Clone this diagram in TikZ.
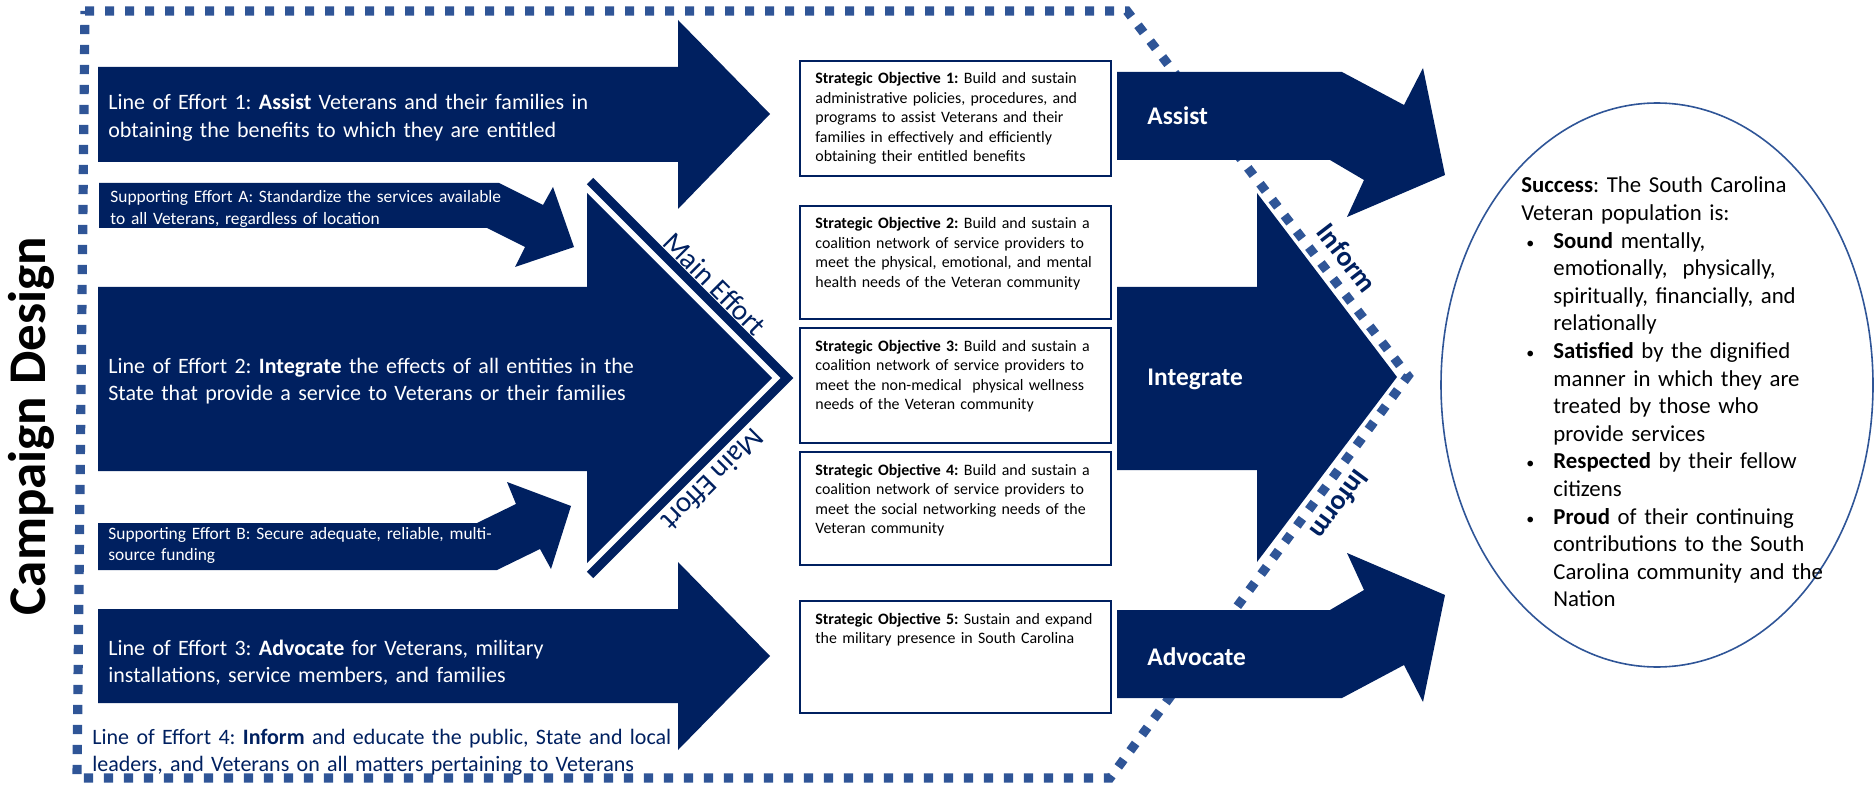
\documentclass[tikz,border=0pt]{standalone}
\usepackage{fontspec}
\setmainfont{Carlito}
\usepackage{tikz}
\usetikzlibrary{shapes.geometric}
\definecolor{navy}{RGB}{0,32,96}
\definecolor{dotblue}{RGB}{47,85,151}
\frenchspacing
\newcommand{\sbullet}{\makebox[16pt][l]{\hspace{2.5pt}{\fontsize{8}{8}\selectfont\textbullet}}}
\tikzset{
  effort/.style={fill=navy},
  loetext/.style={anchor=base west, inner sep=0pt, text=white, align=left, text width=265pt, font=\fontsize{11}{13.8}\selectfont},
  setext/.style={anchor=base west, inner sep=0pt, text=white, align=left, text width=200pt, font=\fontsize{8.7}{10.8}\selectfont},
  objbox/.style={draw=navy, line width=1pt, fill=white, anchor=north west, minimum width=155.5pt, inner sep=0pt},
  objtext/.style={anchor=base west, inner sep=0pt, align=left, text width=146pt, font=\fontsize{7.95}{9.75}\selectfont},
  goal/.style={anchor=base west, inner sep=0pt, text=white, font=\fontsize{12.7}{15}\selectfont\bfseries},
  tag/.style={text=navy, inner sep=0pt, font=\fontsize{14.5}{16}\selectfont},
}

\begin{document}
\begin{tikzpicture}[x=0.5pt, y=-0.5pt]
    \useasboundingbox (0,0) rectangle (1874,786);
    % dotted outline
    \draw[dotblue, line width=4.6pt, dash pattern=on 4.6pt off 5.4pt] (85,11) -- (1127,11) -- (1408,376) -- (1110,778) -- (77,778) -- cycle;

    \node(title)[rotate=90, anchor=base, inner sep=0pt, font=\fontsize{26.5}{30}\selectfont\bfseries] at (46,426) {Campaign Design};

    % lines of effort
    \fill[effort] (98,67) -- (678,67) -- (678,20) -- (770,114) -- (678,209) -- (678,162) -- (98,162) -- cycle;
    \fill[effort] (98,287) -- (587,287) -- (587,193) -- (772,378) -- (587,563) -- (587,471) -- (98,471) -- cycle;
    \fill[effort] (98,609) -- (678,609) -- (678,562) -- (770,656) -- (678,750) -- (678,703) -- (98,703) -- cycle;
    \fill[effort] (99,183) -- (499,183) -- (543,205) -- (553,187) -- (574,247) -- (515,267) -- (525,247) -- (487,228) -- (99,228) -- cycle;
    \fill[effort] (98,570) -- (497,570) -- (540,549) -- (551,569) -- (571,506) -- (507,482) -- (516,504) -- (477,523) -- (98,523) -- cycle;
    \draw[navy, line width=4.5pt, miter limit=10] (590,181) -- (787,378) -- (590,575);

    \node(loe1)[loetext, text width=250pt] at (108,110) {Line of Effort 1: \textbf{Assist} Veterans and their families in\\ obtaining the benefits to which they are entitled};
    \node(sea)[setext] at (110,203) {Supporting Effort A: Standardize the services available\\ to all Veterans, regardless of location};
    \node(loe2)[loetext] at (108,373) {Line of Effort 2: \textbf{Integrate} the effects of all entities in the\\ State that provide a service to Veterans or their families};
    \node(seb)[setext] at (108,539) {Supporting Effort B: Secure adequate, reliable, multi-\\ source funding};
    \node(loe3)[loetext, text width=230pt] at (108,655) {Line of Effort 3: \textbf{Advocate} for Veterans, military\\ installations, service members, and families};
    \node(loe4)[loetext, text=navy, text width=300pt] at (92,744) {Line of Effort 4: \textbf{Inform} and educate the public, State and local\\ leaders, and Veterans on all matters pertaining to Veterans};

    \node(me1)[tag, rotate=-45] at (715,284) {Main Effort};
    \node(me2)[tag, rotate=-135] at (713,480) {Main Effort};

    % strategic objectives
    \node(so1)[objbox, minimum height=57.5pt] at (799,60) {};
    \node(so2)[objbox, minimum height=56.5pt] at (799,205) {};
    \node(so3)[objbox, minimum height=57.5pt] at (799,327) {};
    \node(so4)[objbox, minimum height=56.5pt] at (799,451) {};
    \node(so5)[objbox, minimum height=56pt] at (799,600) {};
    \node(so1t)[objtext] at ([shift={(8pt,-12pt)}]so1.north west) {\textbf{Strategic Objective 1:} Build and sustain\\ administrative policies, procedures, and\\ programs to assist Veterans and their\\ families in effectively and efficiently\\ obtaining their entitled benefits};
    \node(so2t)[objtext] at ([shift={(8pt,-12pt)}]so2.north west) {\textbf{Strategic Objective 2:} Build and sustain a\\ coalition network of service providers to\\ meet the physical, emotional, and mental\\ health needs of the Veteran community};
    \node(so3t)[objtext] at ([shift={(8pt,-12pt)}]so3.north west) {\textbf{Strategic Objective 3:} Build and sustain a\\ coalition network of service providers to\\ meet the non-medical\ \ physical wellness\\ needs of the Veteran community};
    \node(so4t)[objtext] at ([shift={(8pt,-12pt)}]so4.north west) {\textbf{Strategic Objective 4:} Build and sustain a\\ coalition network of service providers to\\ meet the social networking needs of the\\ Veteran community};
    \node(so5t)[objtext] at ([shift={(8pt,-12pt)}]so5.north west) {\textbf{Strategic Objective 5:} Sustain and expand\\ the military presence in South Carolina};

    % end states
    \fill[effort] (1117,72) -- (1342,72) -- (1404,105) -- (1423,68) -- (1445,175) -- (1347,217) -- (1364,180) -- (1330,160) -- (1117,160) -- cycle;
    \fill[effort] (1117,287) -- (1257,287) -- (1257,193) -- (1397,377) -- (1257,562) -- (1257,470) -- (1117,470) -- cycle;
    \fill[effort] (1117,698) -- (1342,698) -- (1404,665) -- (1423,702) -- (1445,595) -- (1347,553) -- (1364,590) -- (1330,610) -- (1117,610) -- cycle;
    \node(assist)[goal] at (1147,125) {Assist};
    \node(integrate)[goal] at (1147,386) {Integrate};
    \node(advocate)[goal] at (1147,665) {Advocate};

    \node(inf1)[tag, font=\fontsize{14}{16}\selectfont\bfseries, rotate=-52.4] at (1347,258) {Inform};
    \node(inf2)[tag, font=\fontsize{14}{16}\selectfont\bfseries, rotate=-126.5] at (1340,505) {Inform};

    \node(success)[draw=dotblue, line width=0.8pt, ellipse, minimum width=216pt, minimum height=282pt, inner sep=0pt] at (1657,385) {};
    \node(successt)[anchor=base west, inner sep=0pt, align=left, text width=160pt, font=\fontsize{11.4}{13.8}\selectfont] at (1521,193) {\textbf{Success}: The South Carolina\\
      Veteran population is:\\
      \sbullet\textbf{Sound} mentally,\\
      \hspace*{16pt}emotionally,\ \ physically,\\
      \hspace*{16pt}spiritually, financially, and\\
      \hspace*{16pt}relationally\\
      \sbullet\textbf{Satisfied} by the dignified\\
      \hspace*{16pt}manner in which they are\\
      \hspace*{16pt}treated by those who\\
      \hspace*{16pt}provide services\\
      \sbullet\textbf{Respected} by their fellow\\
      \hspace*{16pt}citizens\\
      \sbullet\textbf{Proud} of their continuing\\
      \hspace*{16pt}contributions to the South\\
      \hspace*{16pt}Carolina community and the\\
      \hspace*{16pt}Nation};
\end{tikzpicture}
\end{document}
